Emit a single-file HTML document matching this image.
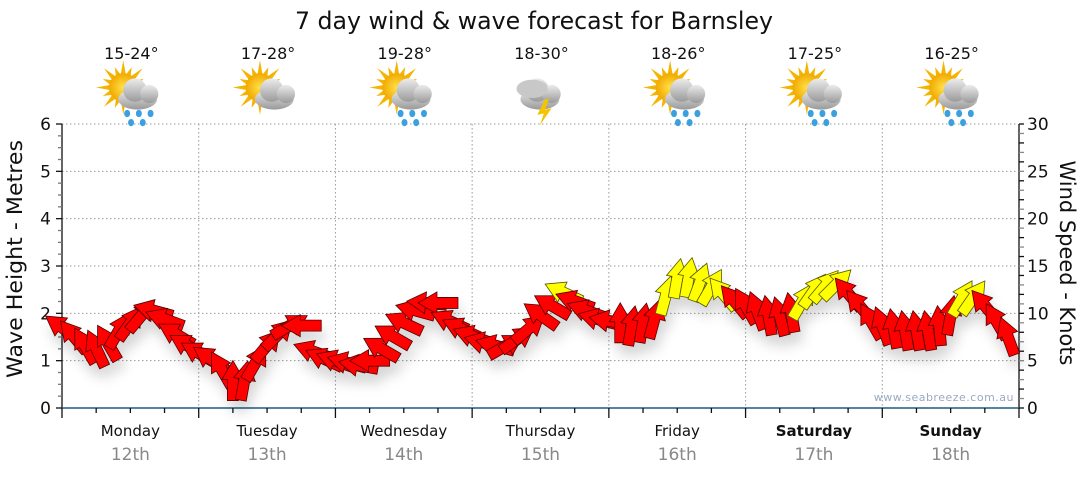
<!DOCTYPE html>
<html><head><meta charset="utf-8"><style>
body{margin:0;background:#fff;}
svg text{font-family:"DejaVu Sans","Liberation Sans",sans-serif;}
</style></head><body>
<svg id="chart" width="1080" height="475" viewBox="0 0 1080 475" xmlns="http://www.w3.org/2000/svg">
<defs>
<filter id="sh" x="-50%" y="-50%" width="200%" height="200%"><feDropShadow dx="3" dy="10" stdDeviation="6" flood-color="#000" flood-opacity="0.16"/></filter>
<radialGradient id="sun" cx="50%" cy="50%" r="50%"><stop offset="0" stop-color="#ffe14a"/><stop offset="1" stop-color="#f2a900"/></radialGradient>
<linearGradient id="cloud" x1="0" y1="0" x2="0" y2="1"><stop offset="0" stop-color="#ececec"/><stop offset="1" stop-color="#9a9a9a"/></linearGradient>
</defs>
<text x="534" y="29" text-anchor="middle" font-size="24" textLength="478" lengthAdjust="spacingAndGlyphs" fill="#111">7 day wind &amp; wave forecast for Barnsley</text>
<g id="grid"></g>
<g id="axes"></g>
<g id="icons"></g>
<g id="arrows" filter="url(#sh)"></g>
<text x="1014" y="401" text-anchor="end" font-size="11" fill="#9aaac0" letter-spacing="0.5">www.seabreeze.com.au</text>
<text transform="translate(22,259) rotate(-90)" text-anchor="middle" font-size="21" textLength="238" lengthAdjust="spacingAndGlyphs" fill="#111">Wave Height - Metres</text>
<text transform="translate(1060,263) rotate(90)" text-anchor="middle" font-size="21" textLength="205" lengthAdjust="spacingAndGlyphs" fill="#111">Wind Speed - Knots</text>
</svg>
<script>
const days=["Monday","Tuesday","Wednesday","Thursday","Friday","Saturday","Sunday"];
const dates=["12th","13th","14th","15th","16th","17th","18th"];
const boldDays=[false,false,false,false,false,true,true];
const temps=["15-24°","17-28°","19-28°","18-30°","18-26°","17-25°","16-25°"];
const iconTypes=["rain","cloud","rain","storm","rain","rain","rain"];
const waveTicks=[0,1,2,3,4,5,6];
const windTicks=[0,5,10,15,20,25,30];
// wind speed (knots) every 2 hours
const windSpeed=[8.5,7.6,6.6,6.3,6.9,8.2,9.0,9.8,10.3,9.4,7.8,6.6,
5.8,5.2,4.1,2.9,2.9,4.8,6.6,7.8,8.7,8.7,6.0,5.2,
5.0,4.8,4.5,5.0,6.3,7.6,9.0,10.3,11.1,11.1,9.2,8.4,
7.6,6.9,6.6,6.6,7.3,8.4,9.8,10.8,12.2,11.3,10.3,9.4,
9.2,9.0,8.7,9.0,9.4,11.9,13.7,13.8,13.3,12.8,12.1,11.3,
10.8,10.3,9.8,9.7,10.1,11.3,12.4,12.9,13.1,12.1,10.8,9.2,
8.7,8.4,8.2,8.2,8.2,8.7,9.8,11.6,11.7,10.8,9.2,7.6];
// direction arrow points to (deg, 0 = up, clockwise)
const windDir=[305,320,330,335,330,30,35,40,285,290,300,300,
300,305,330,0,10,30,40,45,60,270,290,295,
290,285,280,270,300,300,295,285,275,270,295,295,
290,285,285,60,55,50,305,300,295,290,290,285,
280,0,10,10,15,15,10,10,20,30,320,320,
330,340,350,345,350,30,35,40,45,320,320,330,
340,350,350,350,350,355,10,30,35,320,330,340];
// gust warning flag (yellow)
const windWarn=[0,0,0,0,0,0,0,0,0,0,0,0,
0,0,0,0,0,0,0,0,0,0,0,0,
0,0,0,0,0,0,0,0,0,0,0,0,
0,0,0,0,0,0,0,0,1,0,0,0,
0,0,0,0,0,1,1,1,1,1,1,0,
0,0,0,0,0,1,1,1,1,0,0,0,
0,0,0,0,0,0,0,1,1,0,0,0];

const NS="http://www.w3.org/2000/svg";
const X0=62,X1=1019,Y0=408,Y1=124;
const hours=168;
function xT(h){return X0+(X1-X0)*h/hours;}
function yW(m){return Y0-(Y0-Y1)*m/6;}
function yK(k){return Y0-(Y0-Y1)*k/30;}
function mk(tag,attrs,parent){const e=document.createElementNS(NS,tag);for(const k in attrs)e.setAttribute(k,attrs[k]);parent.appendChild(e);return e;}
const grid=document.getElementById('grid'),axes=document.getElementById('axes'),icons=document.getElementById('icons'),arrows=document.getElementById('arrows');

waveTicks.forEach((m,i)=>{
  if(m>0){const l=mk('line',{x1:X0,x2:X1-2,y1:yW(m),y2:yW(m),stroke:'#999','stroke-dasharray':'1.5,2.5'},grid);
  
  }
  const t=mk('text',{x:51,y:yW(m)+6,'text-anchor':'end','font-size':17,fill:'#111'},axes);t.textContent=m;
  
  
});
for(let d=1;d<7;d++){const l=mk('line',{x1:xT(d*24),x2:xT(d*24),y1:Y1,y2:Y0,stroke:'#999','stroke-dasharray':'1.5,2.5'},grid);
  
  }
mk('line',{x1:X0,x2:X0,y1:Y1,y2:Y0,stroke:'#111','stroke-width':1.3},axes);
for(let i=0;i<=24;i++){const y=yW(i/4);mk('line',{x1:X0-(i%4?4:6),x2:X0,y1:y,y2:y,stroke:i%4?'#777':'#111','stroke-width':1.3},axes);}
mk('line',{x1:X1,x2:X1,y1:Y1,y2:Y0,stroke:'#111','stroke-width':1.3},axes);
for(let k=0;k<=30;k++){const y=yK(k);mk('line',{x1:X1,x2:X1+5,y1:y,y2:y,stroke:k%2?'#888':'#111','stroke-width':1.3},axes);}
windTicks.forEach(k=>{const t=mk('text',{x:1027,y:yK(k)+6,'font-size':17,fill:'#111'},axes);t.textContent=k;
  
  });
mk('line',{x1:X0,x2:X1,y1:Y0,y2:Y0,stroke:'#1d5a82','stroke-width':1.5},axes);
for(let h=0;h<=hours;h+=6){mk('line',{x1:xT(h),x2:xT(h),y1:Y0,y2:Y0+(h%24?5:10),stroke:'#111','stroke-width':1.3},axes);}
days.forEach((d,i)=>{
  const cx=xT(i*24+12);
  const t=mk('text',{x:cx,y:436,'text-anchor':'middle','font-size':15,fill:'#111','font-weight':boldDays[i]?'bold':'normal'},axes);t.textContent=d;
  
  
  const t2=mk('text',{x:cx,y:460,'text-anchor':'middle','font-size':17,fill:'#888'},axes);t2.textContent=dates[i];
  
  
  const t3=mk('text',{x:cx+1,y:59,'text-anchor':'middle','font-size':16,fill:'#111'},icons);t3.textContent=temps[i];
  
  
  const g=mk('g',{transform:`translate(${cx+2},94) scale(1.3)`},icons);
  
  
  if(iconTypes[i]!=='storm'){
    for(let a=0;a<16;a++){const ang=a*Math.PI/8;const r=a%2?17:21;
      mk('polygon',{points:`${-7+Math.cos(ang)*r},${-5+Math.sin(ang)*r} ${-7+Math.cos(ang+0.2)*10},${-5+Math.sin(ang+0.2)*10} ${-7+Math.cos(ang-0.2)*10},${-5+Math.sin(ang-0.2)*10}`,fill:'#f5b400'},g);}
    mk('circle',{cx:-7,cy:-5,r:11,fill:'url(#sun)'},g);
  }
  const cxo=iconTypes[i]==='storm'?-2:4;
  mk('ellipse',{cx:cxo,cy:4,rx:15,ry:8,fill:'url(#cloud)'},g);
  mk('circle',{cx:cxo-2,cy:-3,r:9,fill:'url(#cloud)'},g);
  mk('circle',{cx:cxo+9,cy:0,r:7,fill:'url(#cloud)'},g);
  if(iconTypes[i]==='storm'){
    mk('ellipse',{cx:-8,cy:-4,rx:12,ry:7,fill:'#c8c8c8'},g);
    mk('polygon',{points:'2,4 -4,16 1,15 -2,24 7,11 2,12 5,4',fill:'#f5c400'},g);
  }
  if(iconTypes[i]==='rain'){[[-4,15],[5,15],[14,15],[-1,22],[8,22]].forEach(p=>mk('ellipse',{cx:cxo+p[0]-4,cy:p[1],rx:2.3,ry:2.8,fill:'#3aa0e0'},g));}
});
const L=40,HL=19,HW=11,BW=5.5;
windSpeed.forEach((k,i)=>{
  const x=xT(i*2), y=yK(k);
  const p=`0,${-L/2} ${HW},${-L/2+HL} ${BW},${-L/2+HL} ${BW},${L/2} ${-BW},${L/2} ${-BW},${-L/2+HL} ${-HW},${-L/2+HL}`;
  const a=mk('polygon',{points:p,transform:`translate(${x},${y}) rotate(${windDir[i]})`,fill:windWarn[i]?'#ffff00':'#ff0000',stroke:windWarn[i]?'#555500':'#550000','stroke-width':0.8,'stroke-linejoin':'miter'},arrows);
  
  
});
</script>
</body></html>
